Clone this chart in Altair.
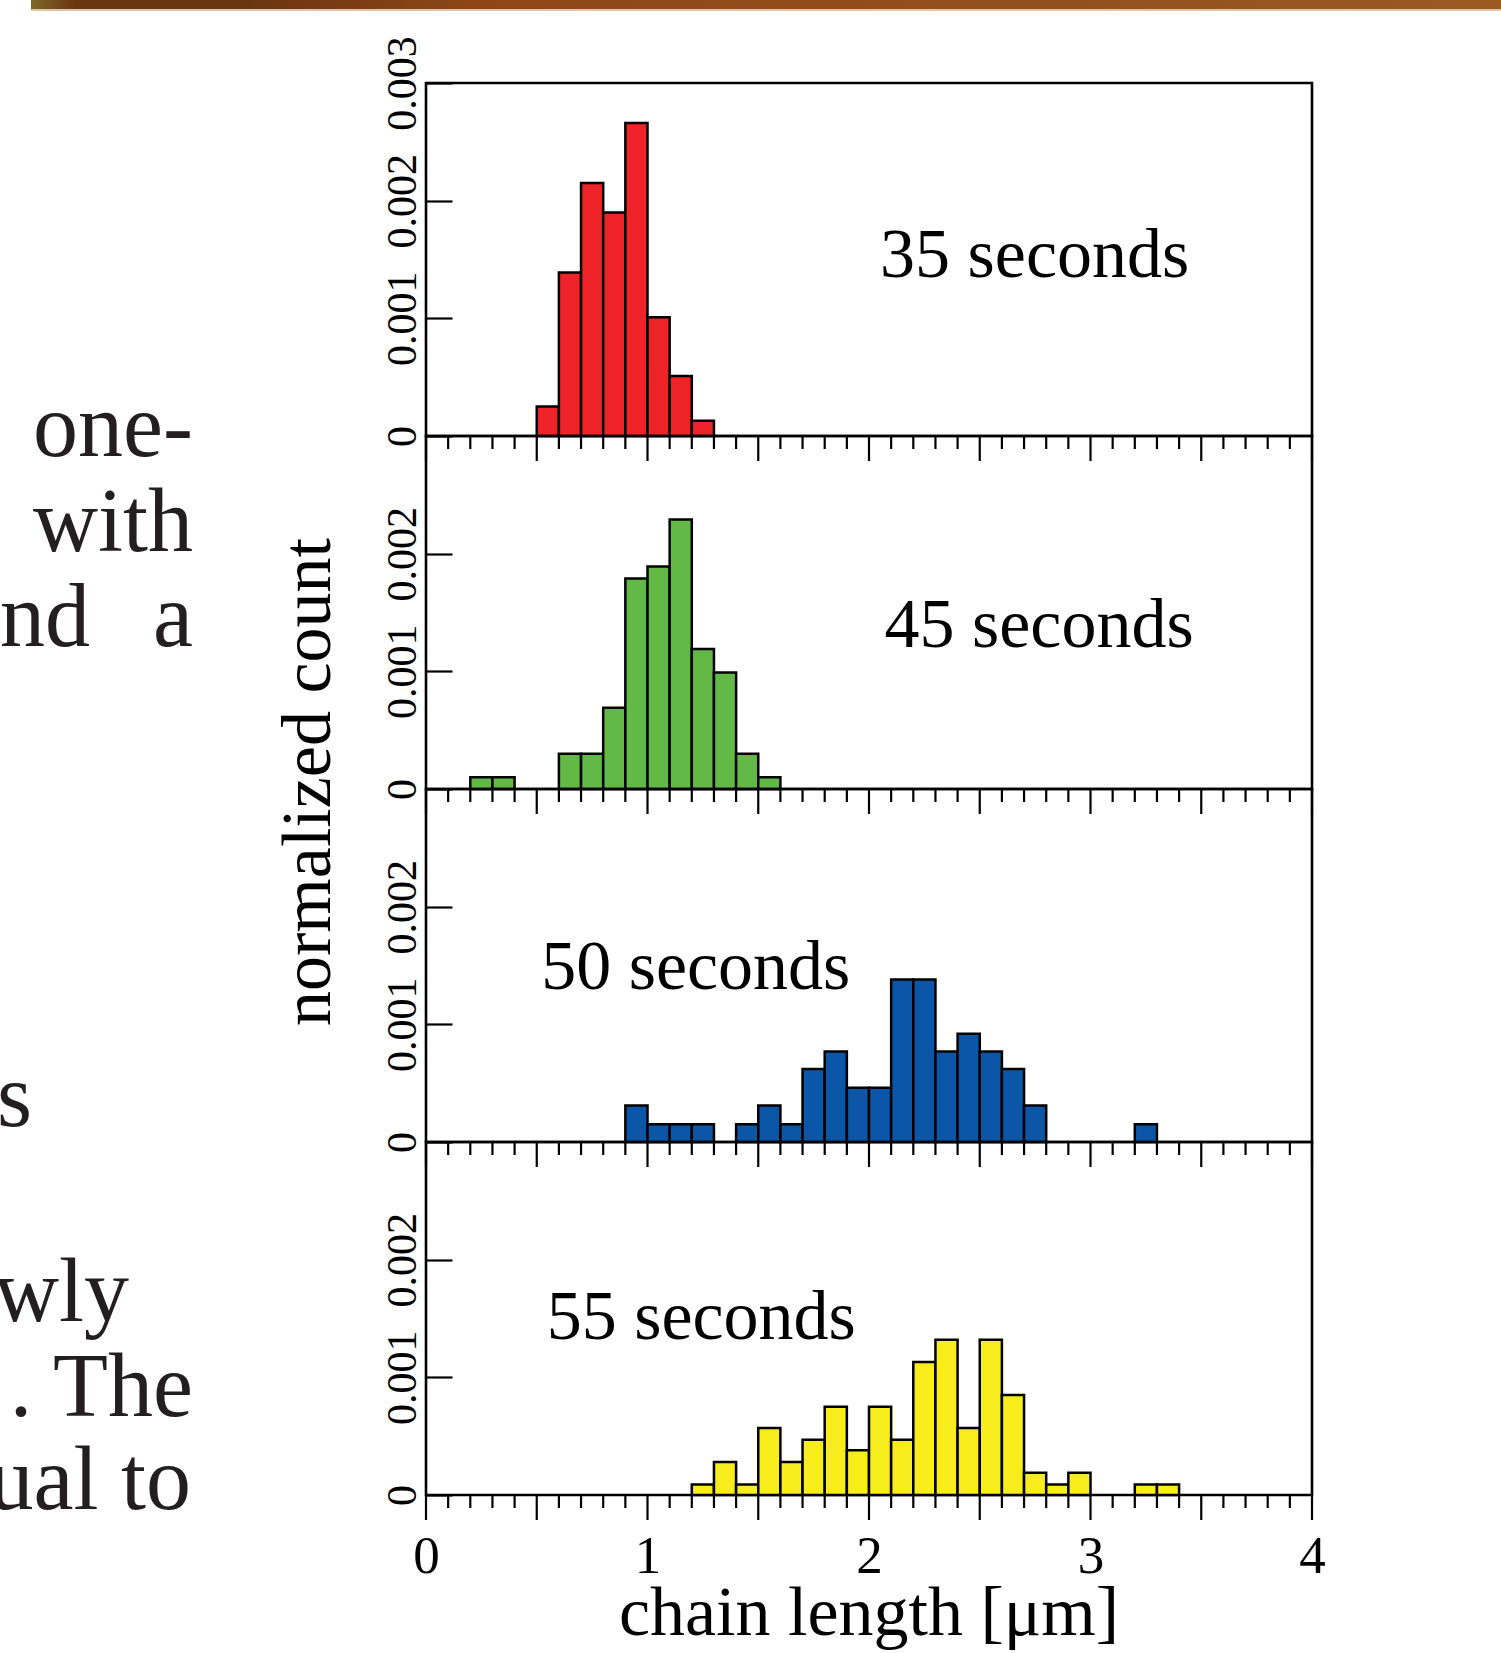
import altair as alt
import pandas as pd

# ---------------- data ----------------
BIN_WIDTH = 0.1
panel_labels = ["35 seconds", "45 seconds", "50 seconds", "55 seconds"]
bar_colors = ["#EE2428", "#62B946", "#0B56A6", "#F7EC1C"]

edges_35 = [0.5, 0.6, 0.7, 0.8, 0.9, 1.0, 1.1, 1.2]
vals_35 = [0.00025, 0.00139, 0.00215, 0.00190, 0.00266, 0.00101, 0.00051, 0.00013]

edges_45 = [0.2, 0.3, 0.6, 0.7, 0.8, 0.9, 1.0, 1.1, 1.2, 1.3, 1.4, 1.5]
vals_45 = [0.00010, 0.00010, 0.00030, 0.00030, 0.00069, 0.00179, 0.00189,
           0.00229, 0.00119, 0.00099, 0.00030, 0.00010]

edges_50 = [0.9, 1.0, 1.1, 1.2, 1.4, 1.5, 1.6, 1.7, 1.8, 1.9, 2.0, 2.1, 2.2,
            2.3, 2.4, 2.5, 2.6, 2.7, 3.2]
vals_50 = [0.00031, 0.00015, 0.00015, 0.00015, 0.00015, 0.00031, 0.00015,
           0.00062, 0.00077, 0.00046, 0.00046, 0.00138, 0.00138, 0.00077,
           0.00092, 0.00077, 0.00062, 0.00031, 0.00015]

edges_55 = [1.2, 1.3, 1.4, 1.5, 1.6, 1.7, 1.8, 1.9, 2.0, 2.1, 2.2, 2.3, 2.4,
            2.5, 2.6, 2.7, 2.8, 2.9, 3.2, 3.3]
vals_55 = [0.00009, 0.00028, 0.00009, 0.00057, 0.00028, 0.00047, 0.00075,
           0.00038, 0.00075, 0.00047, 0.00113, 0.00132, 0.00057, 0.00132,
           0.00085, 0.00019, 0.00009, 0.00019, 0.00009, 0.00009]

all_edges = [edges_35, edges_45, edges_50, edges_55]
all_vals = [vals_35, vals_45, vals_50, vals_55]

x_label_values = [0, 1, 2, 3, 4]
major_tick_values = [0, 0.5, 1, 1.5, 2, 2.5, 3, 3.5, 4]
minor_tick_values = [round(0.1 * k, 1) for k in range(41) if k % 5 != 0]
y_tick_values_top = [0, 0.001, 0.002, 0.003]
y_tick_values = [0, 0.001, 0.002]

x_title = "chain length [\u03bcm]"
y_title = "normalized count"

# fragments of the book page text beside the figure
page_lines = ["one-", "with", "nd", "a", "s", "wly", ". The", "ual to"]

# ---------------- layout ----------------
W, H = 886, 353
ORIGIN_X, ORIGIN_Y = 426, 83
FONT = "Liberation Serif"
MINOR_LEN, MAJOR_LEN = 13, 25
label_pos = [(2.05, 0.00135), (2.07, 0.00121), (0.52, 0.00130), (0.545, 0.001325)]
page_pos = [(193, 456), (193, 551), (90, 645.5), (193, 645.5), (32, 1126),
            (129, 1321), (193, 1416), (191, 1509)]

xscale = alt.Scale(domain=[0, 4], nice=False, zero=False)
yscale = alt.Scale(domain=[0, 0.003], nice=False)


def make_panel(i):
    df = pd.DataFrame({"lo": all_edges[i], "val": all_vals[i]})
    df["hi"] = df["lo"] + BIN_WIDTH
    is_top = i == 0
    is_bottom = i == 3

    if is_bottom:
        x_axis = alt.Axis(
            values=x_label_values,
            format="d",
            ticks=False,
            tickSize=0,
            domain=False,
            grid=False,
            labelFont=FONT,
            labelFontSize=53,
            labelColor="black",
            labelBaseline="top",
            labelPadding=35,
            labelFlush=False,
            labelOverlap=False,
        )
    else:
        x_axis = alt.Axis(ticks=False, labels=False, domain=False, grid=False)

    y_axis = alt.Axis(
        values=y_tick_values_top if is_top else y_tick_values,
        format="~g",
        offset=-26,
        tickSize=26,
        tickWidth=2.2,
        tickColor="black",
        domain=False,
        grid=False,
        labelAngle=270,
        labelAlign="center",
        labelBaseline="alphabetic",
        labelPadding=11,
        labelFont=FONT,
        labelFontSize=42,
        labelColor="black",
        labelOverlap=False,
        labelFlush=False,
    )

    bars = alt.Chart(df).mark_bar(
        color=bar_colors[i], stroke="black", strokeWidth=2.5
    ).encode(
        x=alt.X("lo:Q", scale=xscale, axis=x_axis, title=None),
        x2="hi:Q",
        y=alt.Y("val:Q", scale=yscale, axis=y_axis, title=None),
        y2=alt.datum(0),
    )

    minor = alt.Chart(pd.DataFrame({"v": minor_tick_values})).mark_rule(
        color="black", strokeWidth=2.2
    ).encode(
        x=alt.X("v:Q", scale=xscale, axis=x_axis, title=None),
        y=alt.value(H), y2=alt.value(H + MINOR_LEN),
    )
    major = alt.Chart(pd.DataFrame({"v": major_tick_values})).mark_rule(
        color="black", strokeWidth=2.2
    ).encode(
        x=alt.X("v:Q", scale=xscale, axis=x_axis, title=None),
        y=alt.value(H), y2=alt.value(H + MAJOR_LEN),
    )

    lx, ly = label_pos[i]
    label = alt.Chart(
        pd.DataFrame({"t": [panel_labels[i]], "x": [lx], "y": [ly]})
    ).mark_text(
        align="left", baseline="alphabetic", font=FONT, fontSize=70, color="black"
    ).encode(
        x=alt.X("x:Q", scale=xscale, axis=x_axis, title=None),
        y=alt.Y("y:Q", scale=yscale, axis=y_axis, title=None),
        text="t:N",
    )

    layers = [bars, minor, major, label]

    if is_top:
        # brown strip at the top of the page
        strip = alt.Chart(pd.DataFrame({"a": [0]})).mark_rect(
            color=alt.Gradient(
                gradient="linear",
                stops=[
                    alt.GradientStop(color="#7C6A2A", offset=0),
                    alt.GradientStop(color="#6A3610", offset=0.03),
                    alt.GradientStop(color="#6A3610", offset=0.15),
                    alt.GradientStop(color="#8E4617", offset=0.3),
                    alt.GradientStop(color="#94501C", offset=0.7),
                    alt.GradientStop(color="#9A5A22", offset=1),
                ],
                x1=0, x2=1, y1=0, y2=0,
            )
        ).encode(
            x=alt.value(31 - ORIGIN_X), x2=alt.value(1501 - ORIGIN_X),
            y=alt.value(0 - ORIGIN_Y), y2=alt.value(9 - ORIGIN_Y),
        )
        strip_edge = alt.Chart(pd.DataFrame({"a": [0]})).mark_rect(
            color="#E2C3A8"
        ).encode(
            x=alt.value(31 - ORIGIN_X), x2=alt.value(1501 - ORIGIN_X),
            y=alt.value(9 - ORIGIN_Y), y2=alt.value(11 - ORIGIN_Y),
        )
        layers += [strip, strip_edge]

        for txt, (px, py) in zip(page_lines, page_pos):
            layers.append(
                alt.Chart(pd.DataFrame({"t": [txt]})).mark_text(
                    align="right", baseline="alphabetic", font=FONT,
                    fontSize=90, color="#231F20",
                ).encode(
                    x=alt.value(px - ORIGIN_X), y=alt.value(py - ORIGIN_Y), text="t:N"
                )
            )

        ytitle = alt.Chart(pd.DataFrame({"t": [y_title]})).mark_text(
            angle=270, align="center", baseline="alphabetic", font=FONT,
            fontSize=70, color="black",
        ).encode(x=alt.value(-96), y=alt.value(782 - ORIGIN_Y), text="t:N")
        layers.append(ytitle)

    if is_bottom:
        xtitle = alt.Chart(pd.DataFrame({"t": [x_title]})).mark_text(
            align="center", baseline="alphabetic", font=FONT,
            fontSize=70, color="black",
        ).encode(x=alt.value(W / 2), y=alt.value(H + 140), text="t:N")
        layers.append(xtitle)

    return alt.layer(*layers).properties(width=W, height=H)


panels = [make_panel(i) for i in range(4)]

chart = alt.vconcat(*panels, spacing=0, bounds="flush").properties(
    autosize=alt.AutoSizeParams(type="none"),
    padding={"left": ORIGIN_X, "top": ORIGIN_Y, "right": 1501 - ORIGIN_X - W,
             "bottom": 1653 - ORIGIN_Y},
    background="white",
).configure_view(stroke="black", strokeWidth=2.6)

chart.save("out.html", embed_options={"renderer": "svg", "actions": False})
